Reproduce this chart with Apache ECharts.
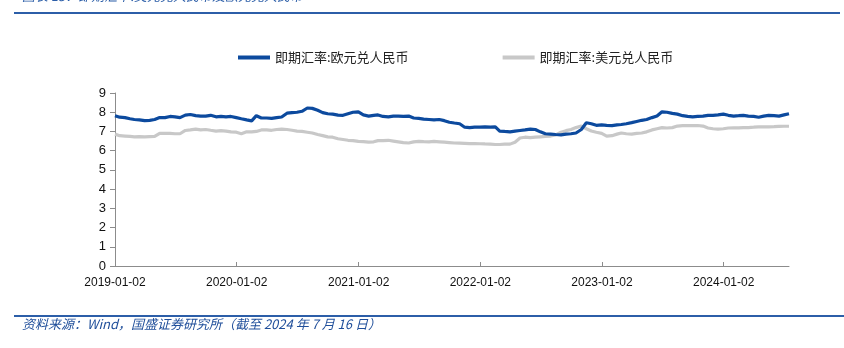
<!DOCTYPE html>
<html>
<head>
<meta charset="utf-8">
<script src="https://cdn.jsdelivr.net/npm/echarts@6/dist/echarts.min.js"></script>
<style>
  html, body { margin: 0; padding: 0; background: #fff; }
  #chart { width: 844px; height: 348px; }
</style>
</head>
<body>
<div id="chart"></div>
<script>
// Spot rates, sampled on the 1st and 16th of each month (first point 2019-01-02, last 2024-07-16)
const eurCny2019 = [7.82, 7.74, 7.72, 7.66, 7.62, 7.60, 7.56, 7.58, 7.62, 7.72, 7.72, 7.78,
                    7.76, 7.72, 7.85, 7.88, 7.82, 7.80, 7.80, 7.84, 7.76, 7.78, 7.76, 7.78];
const eurCny2020 = [7.72, 7.66, 7.60, 7.55, 7.82, 7.70, 7.70, 7.68, 7.72, 7.75, 7.95, 7.98,
                    8.00, 8.05, 8.22, 8.20, 8.10, 7.98, 7.92, 7.90, 7.85, 7.84, 7.92, 8.00];
const eurCny2021 = [8.02, 7.86, 7.80, 7.84, 7.86, 7.78, 7.76, 7.80, 7.80, 7.78, 7.80, 7.70,
                    7.68, 7.64, 7.62, 7.60, 7.62, 7.56, 7.48, 7.44, 7.40, 7.22, 7.20, 7.22];
const eurCny2022 = [7.22, 7.24, 7.22, 7.24, 7.02, 7.00, 6.98, 7.02, 7.05, 7.08, 7.12, 7.10,
                    6.98, 6.88, 6.86, 6.84, 6.82, 6.86, 6.88, 6.92, 7.10, 7.45, 7.40, 7.32];
const eurCny2023 = [7.34, 7.32, 7.30, 7.34, 7.36, 7.40, 7.46, 7.52, 7.58, 7.62, 7.72, 7.80,
                    8.02, 8.00, 7.94, 7.90, 7.82, 7.78, 7.76, 7.78, 7.80, 7.84, 7.84, 7.86];
const eurCny2024 = [7.90, 7.84, 7.80, 7.82, 7.84, 7.80, 7.78, 7.74, 7.80, 7.84, 7.82, 7.80,
                    7.86, 7.92];

const usdCny2019 = [6.86, 6.78, 6.76, 6.74, 6.72, 6.73, 6.72, 6.73, 6.74, 6.90, 6.90, 6.90,
                    6.88, 6.88, 7.05, 7.08, 7.12, 7.08, 7.10, 7.06, 7.02, 7.04, 7.02, 6.98];
const usdCny2020 = [6.96, 6.88, 6.98, 6.98, 7.00, 7.08, 7.08, 7.06, 7.10, 7.12, 7.10, 7.06,
                    7.02, 7.00, 6.96, 6.92, 6.84, 6.78, 6.72, 6.70, 6.62, 6.58, 6.54, 6.52];
const usdCny2021 = [6.48, 6.47, 6.44, 6.46, 6.52, 6.52, 6.54, 6.50, 6.46, 6.42, 6.40, 6.46,
                    6.48, 6.47, 6.46, 6.48, 6.46, 6.44, 6.42, 6.40, 6.39, 6.38, 6.37, 6.37];
const usdCny2022 = [6.36, 6.35, 6.34, 6.32, 6.32, 6.34, 6.34, 6.44, 6.66, 6.70, 6.68, 6.70,
                    6.72, 6.74, 6.76, 6.82, 6.96, 7.04, 7.10, 7.20, 7.28, 7.14, 7.02, 6.96];
const usdCny2023 = [6.90, 6.76, 6.78, 6.86, 6.92, 6.88, 6.86, 6.90, 6.92, 6.98, 7.08, 7.14,
                    7.20, 7.18, 7.20, 7.28, 7.30, 7.30, 7.30, 7.31, 7.28, 7.18, 7.14, 7.12];
const usdCny2024 = [7.14, 7.18, 7.19, 7.19, 7.20, 7.20, 7.22, 7.24, 7.24, 7.24, 7.25, 7.26,
                    7.27, 7.27];

const eurCny = [].concat(eurCny2019, eurCny2020, eurCny2021, eurCny2022, eurCny2023, eurCny2024);
const usdCny = [].concat(usdCny2019, usdCny2020, usdCny2021, usdCny2022, usdCny2023, usdCny2024);

const seriesNames = ['即期汇率:欧元兑人民币', '即期汇率:美元兑人民币'];
const xTickDates = ['2019-01-02', '2020-01-02', '2021-01-02', '2022-01-02', '2023-01-02', '2024-01-02'];
const xStart = '2019-01-02';
const xEnd = '2024-07-16';
const titleText = '图表 15：即期汇率:美元兑人民币及欧元兑人民币';
const sourceText = '资料来源：Wind，国盛证券研究所（截至 2024 年 7 月 16 日）';

// Sample dates: 1st and 16th of each month
function pad(n) { return (n < 10 ? '0' : '') + n; }
const sampleDates = [];
for (let y = 2019; y <= 2024; y++) {
  for (let m = 1; m <= 12; m++) {
    for (const d of [1, 16]) {
      const s = y + '-' + pad(m) + '-' + pad(d);
      if (s > xEnd) continue;
      sampleDates.push(s);
    }
  }
}
sampleDates[0] = xStart;

// Dates are placed on a numeric axis as UTC timestamps
function toTime(s) {
  const p = s.split('-').map(Number);
  return Date.UTC(p[0], p[1] - 1, p[2]);
}
function fmt(t) {
  const d = new Date(t);
  return d.getUTCFullYear() + '-' + pad(d.getUTCMonth() + 1) + '-' + pad(d.getUTCDate());
}

const eurData = sampleDates.map((d, i) => [toTime(d), eurCny[i]]);
const usdData = sampleDates.map((d, i) => [toTime(d), usdCny[i]]);
const tickValues = xTickDates.map(toTime);

const blue = '#0C4A9E';
const grey = '#C8C8C8';
const frameBlue = '#2C5EA8';
const axisColor = '#8C8C8C';

const chart = echarts.init(document.getElementById('chart'), null, { renderer: 'canvas' });
chart.setOption({
  backgroundColor: '#ffffff',
  animation: false,
  textStyle: { fontFamily: 'Liberation Sans, Noto Sans CJK SC, sans-serif' },
  legend: {
    top: 46,
    left: 233,
    itemGap: 94,
    icon: 'rect',
    itemWidth: 32,
    itemHeight: 4,
    textStyle: { fontFamily: 'Noto Sans CJK SC', fontSize: 13, color: '#222' },
    data: seriesNames
  },
  grid: { left: 115, right: 55, top: 93, bottom: 82 },
  xAxis: {
    type: 'value',
    min: toTime(xStart),
    max: toTime(xEnd),
    axisLine: { show: true, onZero: false, lineStyle: { color: axisColor, width: 1 } },
    axisTick: { show: true, inside: true, length: 4, customValues: tickValues, lineStyle: { color: axisColor } },
    axisLabel: {
      customValues: tickValues,
      formatter: v => fmt(v),
      fontSize: 12,
      color: '#111',
      margin: 11,
      showMinLabel: true,
      hideOverlap: false
    },
    splitLine: { show: false }
  },
  yAxis: {
    type: 'value',
    min: 0,
    max: 9,
    interval: 1,
    axisLine: { show: true, lineStyle: { color: axisColor, width: 1 } },
    axisTick: { show: true, length: 5, lineStyle: { color: axisColor } },
    axisLabel: { fontSize: 13, color: '#111', margin: 9 },
    splitLine: { show: false }
  },
  series: [
    {
      name: seriesNames[0],
      type: 'line',
      data: eurData,
      showSymbol: false,
      symbol: 'none',
      z: 3,
      color: blue,
      lineStyle: { color: blue, width: 3.2 }
    },
    {
      name: seriesNames[1],
      type: 'line',
      data: usdData,
      showSymbol: false,
      symbol: 'none',
      z: 2,
      color: grey,
      lineStyle: { color: grey, width: 3.2 }
    }
  ],
  graphic: [
    {
      type: 'text', left: 22, top: -10,
      style: { text: titleText, fill: frameBlue, font: 'italic 13px "Noto Sans CJK SC"' }
    },
    {
      type: 'line', shape: { x1: 14, y1: 13, x2: 840, y2: 13 },
      style: { stroke: frameBlue, lineWidth: 2 }
    },
    {
      type: 'line', shape: { x1: 14, y1: 316, x2: 844, y2: 316 },
      style: { stroke: frameBlue, lineWidth: 2 }
    },
    {
      type: 'text', left: 22, top: 318,
      style: { text: sourceText, fill: '#1F4E9A', font: 'italic 13px "Noto Sans CJK SC"' }
    }
  ]
});
</script>
</body>
</html>
